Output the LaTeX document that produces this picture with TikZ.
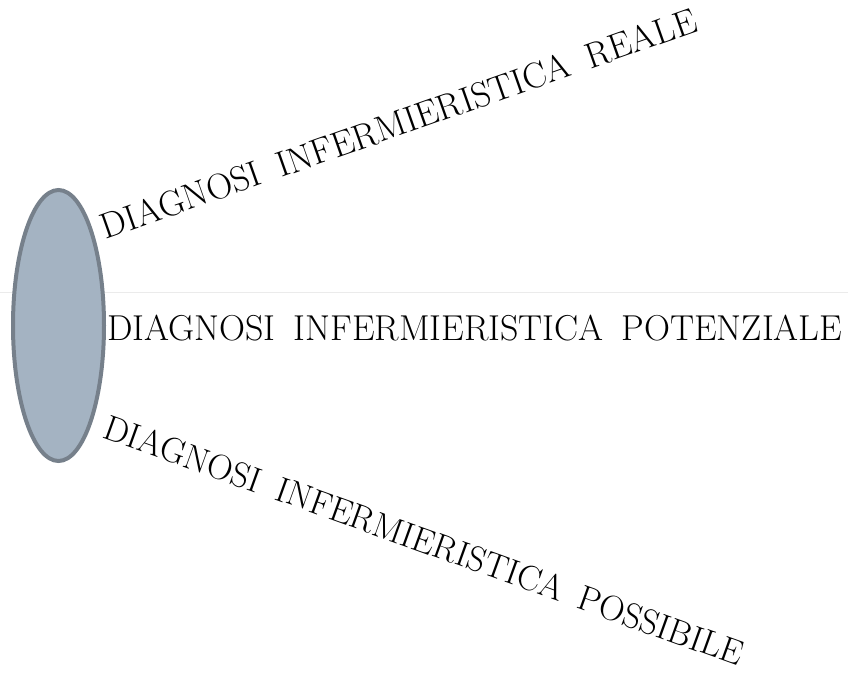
\documentclass[tikz,border=0pt]{standalone}
\usetikzlibrary{positioning}
\definecolor{discfill}{RGB}{164,179,194}
\definecolor{discline}{RGB}{118,128,139}
\definecolor{rulegray}{RGB}{235,235,235}
\newcommand{\wgap}{\hspace{0.5em}}

\begin{document}
\begin{tikzpicture}[x=1pt,y=1pt,every node/.style={font=\fontsize{36}{40}\selectfont,inner sep=0pt,anchor=base west}]
\useasboundingbox (0,0) rectangle (848,-674);
\coordinate (r0) at (0,-292);
\coordinate (r1) at (848,-292);
\draw[rulegray,line width=1pt] (r0)--(r1);
\coordinate (c0) at (58.5,-325.5);
\draw[discline,fill=discfill,line width=4pt] (c0) ellipse (45.5pt and 135.5pt);
\node (reale) at (105,-240) [rotate=19.4] {DIAGNOSI\wgap INFERMIERISTICA\wgap REALE};
\node (potenziale) at (107,-340) {DIAGNOSI\wgap INFERMIERISTICA\wgap POTENZIALE};
\node (possibile) at (101,-437) [rotate=-19.8,font=\fontsize{35.3}{40}\selectfont] {DIAGNOSI\wgap INFERMIERISTICA\wgap POSSIBILE};
\end{tikzpicture}
\end{document}
